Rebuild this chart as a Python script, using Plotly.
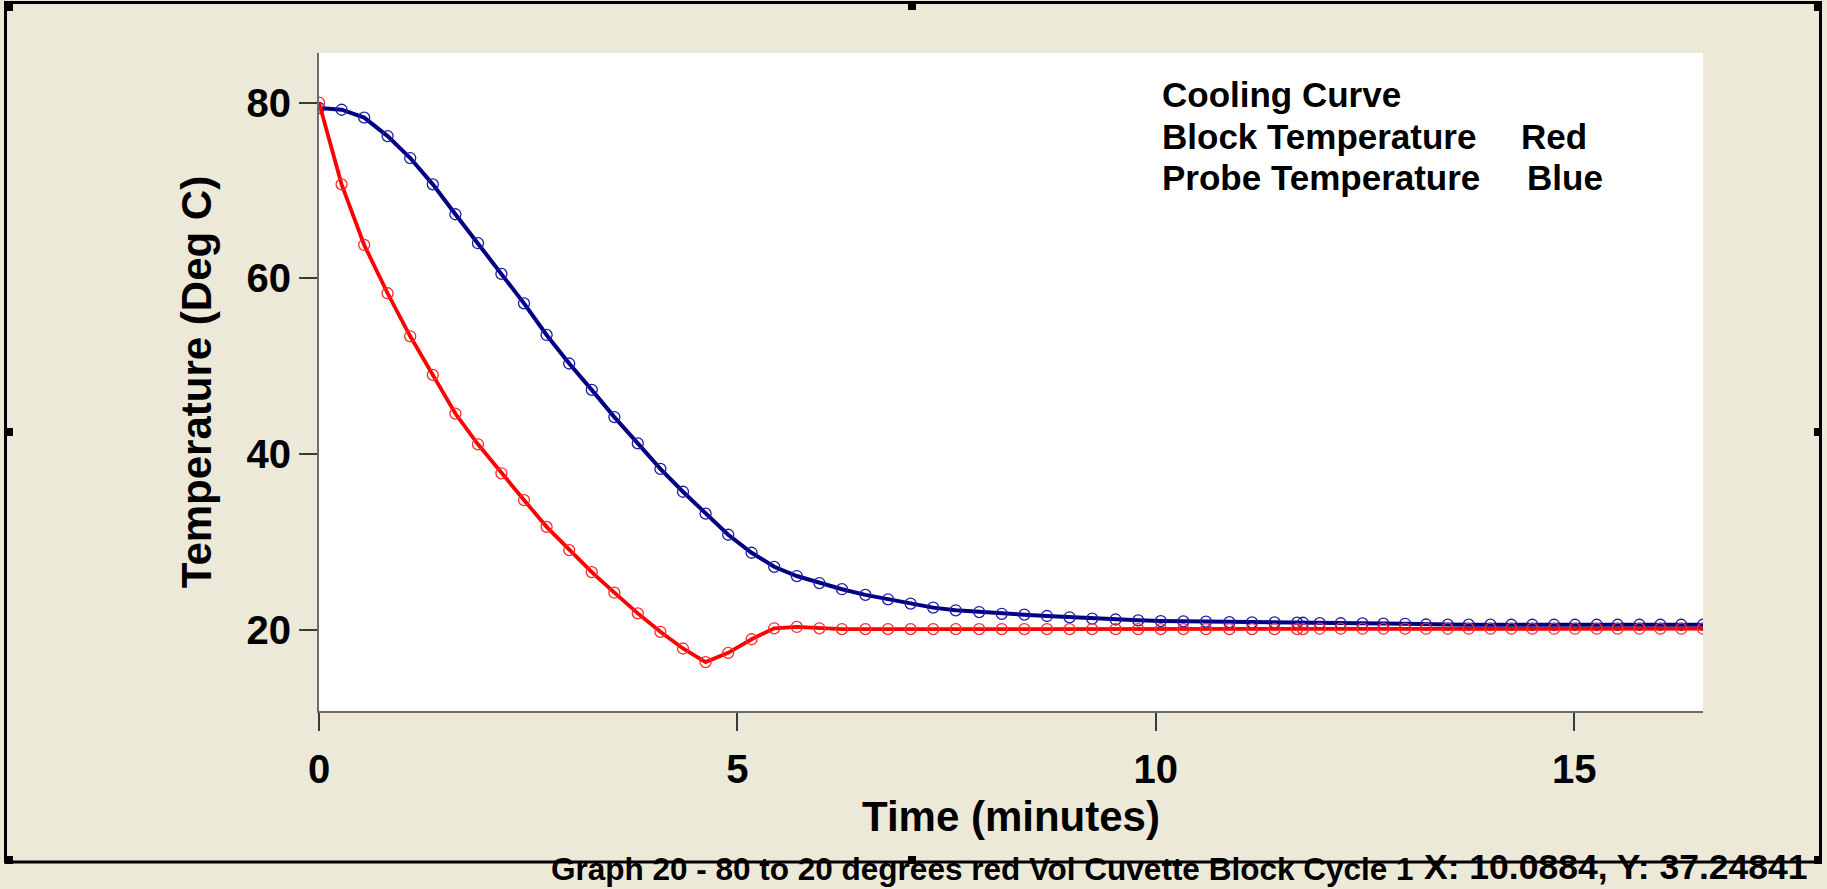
import plotly.graph_objects as go

# Sample times (minutes); the logger interval shortens slightly after ~11.7 min
time_min = [
    0.00, 0.27, 0.54, 0.82, 1.09, 1.36, 1.63, 1.90, 2.18, 2.45, 2.72, 2.99,
    3.26, 3.53, 3.81, 4.08, 4.35, 4.62, 4.89, 5.17, 5.44, 5.71, 5.98, 6.25,
    6.53, 6.80, 7.07, 7.34, 7.61, 7.89, 8.16, 8.43, 8.70, 8.97, 9.24, 9.52,
    9.79, 10.06, 10.33, 10.60, 10.88, 11.15, 11.42, 11.69,
    11.76,
    11.96, 12.21, 12.47, 12.72, 12.98, 13.23, 13.49, 13.74, 14.00, 14.25,
    14.50, 14.76, 15.01, 15.27, 15.52, 15.78, 16.03, 16.28, 16.54,
]

# Block temperature (red), deg C
block_temp = [
    80.0, 70.7, 63.8, 58.3, 53.4, 49.0, 44.6, 41.1, 37.8, 34.75, 31.7, 29.05,
    26.55, 24.2, 21.85, 19.75, 17.85, 16.3, 17.35, 18.9, 20.15, 20.3, 20.15, 20.05,
    20.05, 20.05, 20.05, 20.05, 20.05, 20.05, 20.05, 20.05, 20.05, 20.05, 20.05, 20.05,
    20.05, 20.05, 20.05, 20.05, 20.05, 20.05, 20.05, 20.05,
    20.05,
    20.1, 20.1, 20.1, 20.1, 20.1, 20.1, 20.1, 20.1, 20.1, 20.1,
    20.1, 20.1, 20.1, 20.1, 20.1, 20.1, 20.1, 20.1, 20.1,
]

# Probe temperature (blue), deg C
probe_temp = [
    79.4, 79.2, 78.3, 76.2, 73.7, 70.7, 67.3, 64.0, 60.5, 57.15, 53.55, 50.3,
    47.3, 44.2, 41.2, 38.3, 35.7, 33.2, 30.8, 28.75, 27.15, 26.1, 25.3, 24.6,
    23.95, 23.45, 22.95, 22.5, 22.2, 22.0, 21.8, 21.7, 21.55, 21.4, 21.25, 21.15,
    21.05, 20.97, 20.93, 20.9, 20.85, 20.83, 20.82, 20.8,
    20.78,
    20.74, 20.72, 20.7, 20.68, 20.66, 20.58, 20.57, 20.56, 20.56, 20.55,
    20.55, 20.55, 20.55, 20.55, 20.55, 20.55, 20.55, 20.55, 20.55,
]

x_ticks = [0, 5, 10, 15]
y_ticks = [20, 40, 60, 80]

legend_lines = ["Cooling Curve", "Block Temperature", "Probe Temperature"]
legend_colours = ["Red", "Blue"]
footer_title = "Graph 20 - 80 to 20 degrees red Vol Cuvette Block Cycle 1"
footer_cursor = "X: 10.0884, Y: 37.24841"

FONT = "Liberation Sans, Arial, sans-serif"
W, H = 1827, 889
PL, PT, PW, PH = 319, 53, 1384, 658  # plot box in pixels


def px(xp):
    return (xp - PL) / PW


def py(yp):
    return (PT + PH - yp) / PH


fig = go.Figure()
fig.add_trace(go.Scatter(
    x=time_min, y=probe_temp, mode="lines+markers", name="Probe Temperature",
    line=dict(color="#000080", width=4),
    marker=dict(symbol="circle-open", size=11, color="#1c1ca8", line=dict(width=1.3)),
))
fig.add_trace(go.Scatter(
    x=time_min, y=block_temp, mode="lines+markers", name="Block Temperature",
    line=dict(color="#ff0000", width=3.8),
    marker=dict(symbol="circle-open", size=11, color="#ff2a2a", line=dict(width=1.3)),
))

axis_common = dict(
    showgrid=False, zeroline=False, ticks="outside", ticklen=18, tickwidth=1.5,
    tickcolor="#3a3a3a", showline=True, linecolor="#6b6b6b", linewidth=2,
    tickfont=dict(family=FONT, size=40, color="black", weight="bold"),
)
title_font = dict(family=FONT, size=42, color="black", weight="bold")

fig.update_layout(
    width=W, height=H,
    margin=dict(l=PL, r=W - PL - PW, t=PT, b=H - PT - PH, pad=0),
    paper_bgcolor="#ece9d8", plot_bgcolor="white",
    showlegend=False,
    xaxis=dict(range=[0, 16.54], tickvals=x_ticks, ticklabelstandoff=4, **axis_common,
               title=dict(text="Time (minutes)", standoff=12, font=title_font)),
    yaxis=dict(range=[10.73, 85.66], tickvals=y_ticks, **axis_common,
               title=dict(text="Temperature (Deg C)", standoff=22, font=title_font)),
)

# Text block describing the curves
legend_font = dict(family=FONT, size=35, color="black", weight="bold")
for text, ycen in zip(legend_lines, [94.5, 136.0, 177.5]):
    fig.add_annotation(x=px(1160), y=py(ycen), xref="paper", yref="paper",
                       text=text, showarrow=False, xanchor="left", yanchor="middle",
                       font=legend_font)
for text, xl, ycen in zip(legend_colours, [1519, 1525], [136.0, 177.5]):
    fig.add_annotation(x=px(xl), y=py(ycen), xref="paper", yref="paper",
                       text=text, showarrow=False, xanchor="left", yanchor="middle",
                       font=legend_font)

# Window frame with selection handles
fig.add_shape(type="rect", xref="paper", yref="paper",
              x0=px(5.5), x1=px(1820.5), y0=py(862), y1=py(2.5),
              line=dict(color="black", width=3), fillcolor="rgba(0,0,0,0)", layer="above")
for hx, hy in [(9, 7), (912, 6), (1818, 7), (9, 432), (1818, 432), (912, 860), (9, 860), (1818, 860)]:
    fig.add_shape(type="rect", xref="paper", yref="paper",
                  x0=px(hx - 4), x1=px(hx + 4), y0=py(hy + 4), y1=py(hy - 4),
                  line=dict(width=0), fillcolor="black", layer="above")

# Footer caption and cursor readout, sitting on the bottom edge of the page
fig.add_annotation(x=px(549), y=py(889), xref="paper", yref="paper", text=footer_title,
                   showarrow=False, xanchor="left", yanchor="bottom",
                   font=dict(family=FONT, size=31.5, color="black", weight="bold"))
fig.add_annotation(x=px(1810), y=py(889), xref="paper", yref="paper", text=footer_cursor,
                   showarrow=False, xanchor="right", yanchor="bottom",
                   font=dict(family=FONT, size=35.5, color="black", weight="bold"))

fig.write_html("out.html")
